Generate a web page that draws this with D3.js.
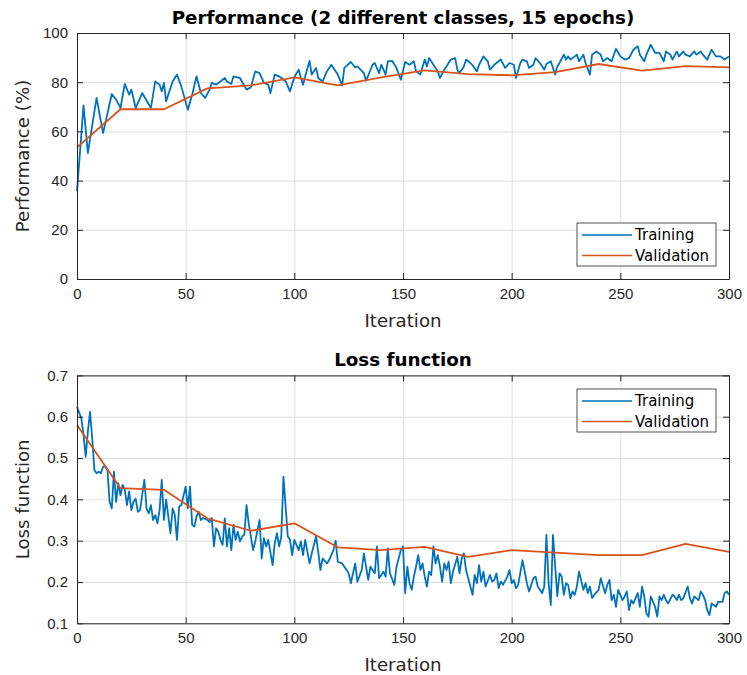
<!DOCTYPE html>
<html>
<head>
<meta charset="utf-8">
<script src="https://cdn.jsdelivr.net/npm/d3@7"></script>
<style>
  body { margin: 0; background: #fff; }
  svg { font-family: "DejaVu Sans", sans-serif; }
  .grid line { stroke: #dedede; stroke-width: 1; }
  .grid .domain { display: none; }
  .ax text { fill: #262626; font-size: 15px; }
  .ax line { stroke: #262626; }
  .ax .domain { stroke: #262626; }
</style>
</head>
<body>
<svg width="747" height="675"></svg>
<script>
// ---- data ----
var xTicks = [0, 50, 100, 150, 200, 250, 300];
var perfTicks = [0, 20, 40, 60, 80, 100];
var lossTicks = [0.1, 0.2, 0.3, 0.4, 0.5, 0.6, 0.7];

var valIter = [0, 20, 40, 60, 80, 100, 120, 140, 160, 180, 200, 220, 240, 260, 280, 300];
var valPerf = [53.5, 69, 69, 77.5, 78.7, 82, 78.7, 82, 84.8, 83.3, 82.8, 84.1, 87.4, 84.7, 86.5, 86];
var valLoss = [0.58, 0.427, 0.423, 0.354, 0.324, 0.342, 0.284, 0.277, 0.285, 0.261, 0.277, 0.271, 0.265, 0.265, 0.292, 0.273];

var perfIter = [0, 3, 5, 9, 12, 16, 18, 20, 22, 24, 25, 27, 30, 34, 36, 38, 39, 40, 41, 44, 46, 48, 51, 53, 55, 57, 59, 61, 62, 64, 66, 68, 69, 71, 72,
  75, 78, 80, 82, 84, 86, 88, 89, 91, 93, 96, 98, 100, 102, 103, 104, 105, 107, 108, 110, 111, 113, 115, 117, 120, 122, 123, 126, 128, 129, 132, 133, 136, 137, 139, 140, 142, 143, 145, 147, 149,
  151, 153, 155, 156, 158, 160, 161, 162, 164, 166, 167, 169, 170, 172, 174, 175, 176, 178, 179, 181, 182, 184, 185, 187, 189, 190, 192, 195, 197, 199, 201, 202, 204, 205, 207, 208, 210, 211, 213, 215, 216, 218, 220, 221, 222, 224, 225, 226,
  227, 228, 230, 231, 233, 234, 236, 237, 239, 241, 242, 244, 246, 248, 250, 252, 254, 256, 258, 259, 261, 262, 264, 266, 268, 270, 271, 273, 274, 276, 277, 279, 280, 282, 284, 285, 287, 288, 290, 292, 294, 296, 298, 300];
var perfTrain = [35.6, 70.6, 51.2, 73.6, 59.3, 75.2, 72.9, 69.5, 79.3, 74.9, 77.0, 69.5, 75.6, 69.5, 80.3, 79.0, 76.3, 79.7, 72.2, 80.3, 83.1, 78.3, 68.8, 74.9, 82.4, 75.6, 73.6, 77.0, 79.7, 79.0, 80.3, 81.7, 80.3, 79.3, 82.4,
  81.7, 77.0, 77.9, 84.4, 83.7, 79.7, 79.0, 75.6, 83.1, 82.4, 80.3, 76.3, 82.0, 85.1, 81.7, 79.0, 82.4, 88.7, 83.1, 85.8, 81.7, 80.3, 84.4, 87.1, 83.1, 78.7, 85.8, 88.2, 86.0, 86.4, 83.7, 80.6, 87.1, 87.8, 83.7, 87.1, 83.1, 88.5, 88.7, 85.8, 81.0,
  88.2, 87.1, 88.5, 84.4, 83.1, 89.2, 86.4, 89.8, 87.1, 84.4, 81.7, 85.1, 86.4, 89.2, 89.8, 85.1, 83.7, 86.4, 89.2, 87.8, 86.9, 84.4, 87.1, 90.5, 88.5, 85.1, 87.1, 89.2, 85.8, 87.8, 87.1, 81.7, 87.8, 89.2, 88.5, 85.8, 87.1, 89.8, 87.8, 85.1, 87.4, 88.5, 83.1, 86.4, 87.8, 91.2, 89.2, 90.5,
  89.2, 89.8, 91.2, 88.5, 91.2, 87.8, 83.1, 91.2, 92.5, 91.2, 88.5, 89.8, 88.5, 93.6, 90.5, 89.2, 89.8, 93.2, 94.6, 91.2, 88.5, 91.2, 95.3, 91.9, 91.9, 88.5, 92.5, 91.2, 89.2, 92.5, 90.5, 92.5, 91.2, 90.5, 92.5, 91.2, 92.5, 91.2, 89.2, 93.2, 90.5, 90.5, 89.2, 90.5];

var lossIter = [0, 2, 3, 4, 5, 6, 7, 8, 9, 10, 11, 12, 13, 14, 15, 16, 17, 18, 19, 20, 21, 22, 23, 24, 25, 26, 27, 28, 29, 31, 32, 33, 34, 35, 36, 37, 38, 39, 40, 41, 43, 44, 45, 46, 47, 48, 50, 51, 52, 53, 54, 55, 56, 57, 58, 60, 61, 62, 63, 64, 65, 66, 67, 68, 69, 70, 71, 72, 73, 74, 75, 76, 77, 78, 79, 80, 81, 82, 84,
  85, 86, 87, 88, 90, 91, 92, 93, 94, 95, 97, 98, 99, 100, 102, 103, 104, 105, 107, 108, 110, 111, 112, 113, 115, 116, 118, 119, 120, 122, 123, 125, 126, 128, 129, 131, 132, 134, 135, 137, 138, 139, 141, 142, 143, 144, 146, 147, 149,
  150, 151, 152, 153, 154, 155, 156, 157, 158, 159, 160, 161, 162, 163, 164, 165, 166, 167, 168, 169, 170, 171, 172, 173, 175, 176, 177, 178, 179, 180, 182, 183, 184, 185, 186, 187, 188, 190, 191, 192, 193, 194, 195, 196, 198, 199, 200, 201, 202, 203, 205, 207, 208, 209, 210, 211, 212, 214, 215, 216, 217, 218, 219, 221, 222, 223, 224, 225, 226,
  227, 228, 229, 230, 231, 233, 234, 235, 236, 237, 238, 240, 241, 243, 244, 245, 246, 247, 248, 249, 251, 252, 253, 254, 255, 256, 258, 259, 260, 261, 262, 263, 264, 266, 267, 268, 269, 270, 271, 272, 274, 275, 276, 277, 278, 279, 281, 282, 283, 284, 286, 287, 288, 289, 290, 291, 292, 294, 295, 296, 297, 298, 299, 300];
var lossTrain = [0.624, 0.596, 0.556, 0.503, 0.564, 0.612, 0.548, 0.471, 0.463, 0.467, 0.463, 0.479, 0.479, 0.471, 0.394, 0.378, 0.467, 0.394, 0.439, 0.410, 0.435, 0.423, 0.386, 0.419, 0.374, 0.394, 0.402, 0.370, 0.374, 0.447, 0.378, 0.366, 0.386, 0.350, 0.362, 0.342, 0.374, 0.447, 0.350, 0.400, 0.318, 0.378, 0.362, 0.302, 0.382, 0.386, 0.431, 0.378, 0.431, 0.338, 0.334, 0.358, 0.370, 0.350, 0.355, 0.350, 0.345, 0.355, 0.286, 0.330, 0.322, 0.302, 0.290, 0.354, 0.286, 0.330, 0.277, 0.338, 0.302, 0.322, 0.298, 0.310, 0.314, 0.386, 0.342, 0.310, 0.277, 0.298, 0.350,
  0.257, 0.306, 0.286, 0.302, 0.241, 0.294, 0.318, 0.286, 0.310, 0.455, 0.310, 0.302, 0.265, 0.302, 0.277, 0.298, 0.265, 0.302, 0.245, 0.269, 0.310, 0.273, 0.229, 0.257, 0.245, 0.253, 0.277, 0.300, 0.249, 0.245, 0.237, 0.221, 0.197, 0.245, 0.201, 0.229, 0.269, 0.205, 0.237, 0.221, 0.286, 0.209, 0.225, 0.213, 0.281, 0.221, 0.193, 0.237, 0.277,
  0.286, 0.173, 0.237, 0.197, 0.181, 0.213, 0.237, 0.265, 0.229, 0.245, 0.213, 0.189, 0.225, 0.217, 0.286, 0.245, 0.265, 0.237, 0.201, 0.245, 0.229, 0.249, 0.197, 0.225, 0.261, 0.221, 0.257, 0.269, 0.229, 0.209, 0.169, 0.217, 0.197, 0.241, 0.201, 0.225, 0.189, 0.217, 0.201, 0.205, 0.221, 0.185, 0.201, 0.193, 0.213, 0.229, 0.197, 0.205, 0.185, 0.193, 0.253, 0.197, 0.177, 0.193, 0.209, 0.213, 0.189, 0.173, 0.189, 0.314, 0.197, 0.144, 0.314, 0.165, 0.221, 0.213, 0.169, 0.197, 0.193,
  0.161, 0.177, 0.169, 0.189, 0.225, 0.181, 0.197, 0.173, 0.189, 0.161, 0.169, 0.181, 0.209, 0.173, 0.193, 0.205, 0.156, 0.169, 0.140, 0.181, 0.156, 0.165, 0.177, 0.132, 0.156, 0.148, 0.173, 0.140, 0.189, 0.165, 0.124, 0.116, 0.165, 0.140, 0.116, 0.165, 0.156, 0.169, 0.156, 0.148, 0.169, 0.165, 0.156, 0.169, 0.156, 0.161, 0.189, 0.161, 0.148, 0.165, 0.156, 0.177, 0.169, 0.156, 0.132, 0.120, 0.148, 0.140, 0.152, 0.152, 0.152, 0.173, 0.177, 0.169];

var legendLabels = ["Training", "Validation"];
var colors = ["#0072BD", "#D95319"];

var svg = d3.select("svg");
svg.append("rect").attr("width", 747).attr("height", 675).attr("fill", "#fff");

function zip(xs, ys) {
  return xs.map(function (d, i) { return [d, ys[i]]; });
}

function drawPanel(opt) {
  var left = 77, right = 729;
  var w = right - left, h = opt.bottom - opt.top;
  var g = svg.append("g").attr("transform", "translate(" + left + "," + opt.top + ")");

  var x = d3.scaleLinear().domain([0, 300]).range([0, w]);
  var y = d3.scaleLinear().domain(opt.yDomain).range([h, 0]);

  // grid
  g.append("g").attr("class", "grid")
    .attr("transform", "translate(0," + h + ")")
    .call(d3.axisBottom(x).tickValues(xTicks).tickSize(-h).tickFormat(""));
  g.append("g").attr("class", "grid")
    .call(d3.axisLeft(y).tickValues(opt.yTicks).tickSize(-w).tickFormat(""));

  // series
  var line = d3.line().x(function (d) { return x(d[0]); }).y(function (d) { return y(d[1]); });
  g.append("path").datum(zip(opt.trainIter, opt.train))
    .attr("fill", "none").attr("stroke", colors[0]).attr("stroke-width", 1.8)
    .attr("stroke-linejoin", "round").attr("d", line);
  g.append("path").datum(zip(valIter, opt.val))
    .attr("fill", "none").attr("stroke", colors[1]).attr("stroke-width", 1.8)
    .attr("stroke-linejoin", "round").attr("d", line);

  // axes, ticks pointing inward
  var tl = 6;
  g.append("g").attr("class", "ax")
    .attr("transform", "translate(0," + h + ")")
    .call(d3.axisBottom(x).tickValues(xTicks).tickSizeInner(-tl).tickSizeOuter(0).tickPadding(9));
  g.append("g").attr("class", "ax")
    .call(d3.axisLeft(y).tickValues(opt.yTicks).tickSizeInner(-tl).tickSizeOuter(0).tickPadding(9)
      .tickFormat(opt.fmt));
  g.append("g").attr("class", "ax")
    .call(d3.axisTop(x).tickValues(xTicks).tickSizeInner(-tl).tickSizeOuter(0).tickFormat(""));
  g.append("g").attr("class", "ax")
    .attr("transform", "translate(" + w + ",0)")
    .call(d3.axisRight(y).tickValues(opt.yTicks).tickSizeInner(-tl).tickSizeOuter(0).tickFormat(""));

  // title + labels
  g.append("text").attr("x", w / 2).attr("y", -9)
    .attr("text-anchor", "middle").attr("font-weight", "bold").attr("font-size", "18.3px")
    .attr("fill", "#000").text(opt.title);
  g.append("text").attr("x", w / 2).attr("y", h + 48)
    .attr("text-anchor", "middle").attr("font-size", "18.2px").attr("fill", "#262626")
    .text("Iteration");
  g.append("text")
    .attr("transform", "translate(" + (-48) + "," + (h / 2) + ") rotate(-90)")
    .attr("text-anchor", "middle").attr("font-size", "18.2px").attr("fill", "#262626")
    .text(opt.ylabel);

  // legend
  var lg = g.append("g").attr("transform", "translate(" + (opt.legX - left) + "," + (opt.legY - opt.top) + ")");
  lg.append("rect").attr("width", 139).attr("height", 43)
    .attr("fill", "#fff").attr("stroke", "#262626").attr("stroke-width", 0.8);
  legendLabels.forEach(function (lab, i) {
    var yy = 12 + i * 20.5;
    lg.append("line").attr("x1", 5).attr("x2", 55).attr("y1", yy).attr("y2", yy)
      .attr("stroke", colors[i]).attr("stroke-width", 1.5);
    lg.append("text").attr("x", 58).attr("y", yy).attr("dy", "0.36em")
      .attr("font-size", "15px").attr("fill", "#000").text(lab);
  });
}

drawPanel({
  top: 33, bottom: 279, yDomain: [0, 100], yTicks: perfTicks, fmt: d3.format("d"),
  trainIter: perfIter, train: perfTrain, val: valPerf,
  title: "Performance (2 different classes, 15 epochs)", ylabel: "Performance (%)",
  legX: 577, legY: 223
});
drawPanel({
  top: 375.4, bottom: 623.3, yDomain: [0.1, 0.7], yTicks: lossTicks, fmt: d3.format(".1f"),
  trainIter: lossIter, train: lossTrain, val: valLoss,
  title: "Loss function", ylabel: "Loss function",
  legX: 577, legY: 389
});
</script>
</body>
</html>
